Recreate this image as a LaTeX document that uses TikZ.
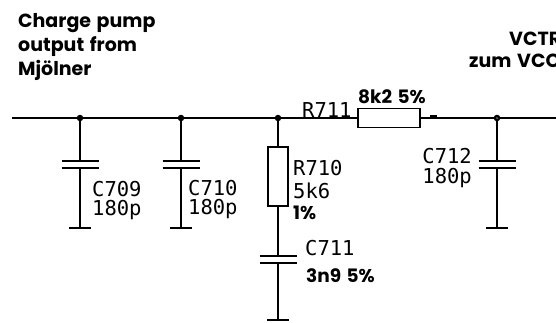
\documentclass[tikz,border=0pt]{standalone}
\usepackage{fontspec}
\newfontfamily\headfont{Poppins}[WordSpace=1.4]
\newfontfamily\partfont{DejaVu Sans Mono}
\usetikzlibrary{positioning}

\begin{document}
\begin{tikzpicture}[x=1pt,y=-1pt,
    wire/.style={line width=2pt},
    plate/.style={line width=2pt},
    gnd/.style={line width=2.5pt},
    dot/.style={circle,fill,inner sep=0pt,minimum size=6.5pt},
    res/.style={draw,line width=1.3pt,inner sep=0pt,fill=white},
    lbl/.style={font=\partfont\fontsize{20.5}{20.5}\selectfont,inner sep=0pt,text height=14pt,text depth=0pt},
    val/.style={font=\headfont\bfseries\fontsize{18.5}{18.5}\selectfont,inner sep=0pt},
    head/.style={font=\headfont\bfseries\fontsize{19}{24}\selectfont,inner sep=0pt,align=left}]
    \useasboundingbox (0,0) rectangle (556,322);
    \clip (0,0) rectangle (556,322);

    % texts at the top
    \node[head,anchor=north west] (src) at (18,13) {Charge pump\\output from\\Mjölner};
    \node[head,anchor=base west] (vctr) at (509,45) {VCTR};
    \node[head,anchor=base west] (vco) at (469,67) {zum VCO};

    % main line
    \coordinate (in) at (12,118);
    \coordinate (out) at (560,118);
    \node[dot] (j1) at (80,118) {};
    \node[dot] (j2) at (181,118) {};
    \node[dot] (j3) at (278,118) {};
    \node[circle,draw,fill=white,line width=2.4pt,inner sep=0pt,minimum size=4pt] (j4) at (497,118) {};
    \node[res,minimum width=62pt,minimum height=19pt] (R711) at (389,118) {};
    \node[res,minimum width=20pt,minimum height=59pt] (R710) at (278,176.5) {};
    \draw[wire] (in) -- (j1) -- (j2) -- (j3) -- (R711.west);
    \draw[wire] (R711.east) -- (j4) -- (out);
    \draw[wire] (j3) -- (R710.north);
    \draw[line width=2pt] (430,115.5) -- (437,115.5);

    % capacitors with ground
    \foreach \name/\from/\x/\y/\g in {709/j1/80/161/228, 710/j2/181/161/228,
                                      712/j4/497/161/228, 711/R710.south/278/256/320} {
        \coordinate (C\name a) at (\x,\y);
        \coordinate (C\name b) at (\x,\y+7);
        \coordinate (G\name) at (\x,\g);
        \draw[wire] (\from) -- (C\name a);
        \draw[plate] ([xshift=-18.5pt]C\name a) -- ([xshift=18.5pt]C\name a)
                     ([xshift=-18.5pt]C\name b) -- ([xshift=18.5pt]C\name b);
        \draw[wire] (C\name b) -- (G\name);
        \draw[gnd] ([xshift=-11pt]G\name) -- ([xshift=11pt]G\name);
    }

    % part names and values
    \node[lbl,anchor=base west] (nC709) at (92,196) {C709};
    \node[lbl,anchor=base west] (vC709) at (92,215) {180p};
    \node[lbl,anchor=base west] (nC710) at (188,195) {C710};
    \node[lbl,anchor=base west] (vC710) at (188,214) {180p};
    \node[lbl,anchor=base east] (nC712) at (472,163) {C712};
    \node[lbl,anchor=base east] (vC712) at (472,183) {180p};
    \node[lbl,anchor=base west] (nR710) at (293,175) {R710};
    \node[lbl,anchor=base west] (vR710) at (293,198) {5k6};
    \node[val,anchor=base west] (tR710) at (293,219) {1\%};
    \node[lbl,anchor=base west] (nC711) at (305,255) {C711};
    \node[val,anchor=base west] (vC711) at (306,282) {3n9 5\%};
    \node[lbl,anchor=base west] (nR711) at (302,117) {R711};
    \node[val,anchor=base west] (vR711) at (358,103) {8k2 5\%};
\end{tikzpicture}
\end{document}
